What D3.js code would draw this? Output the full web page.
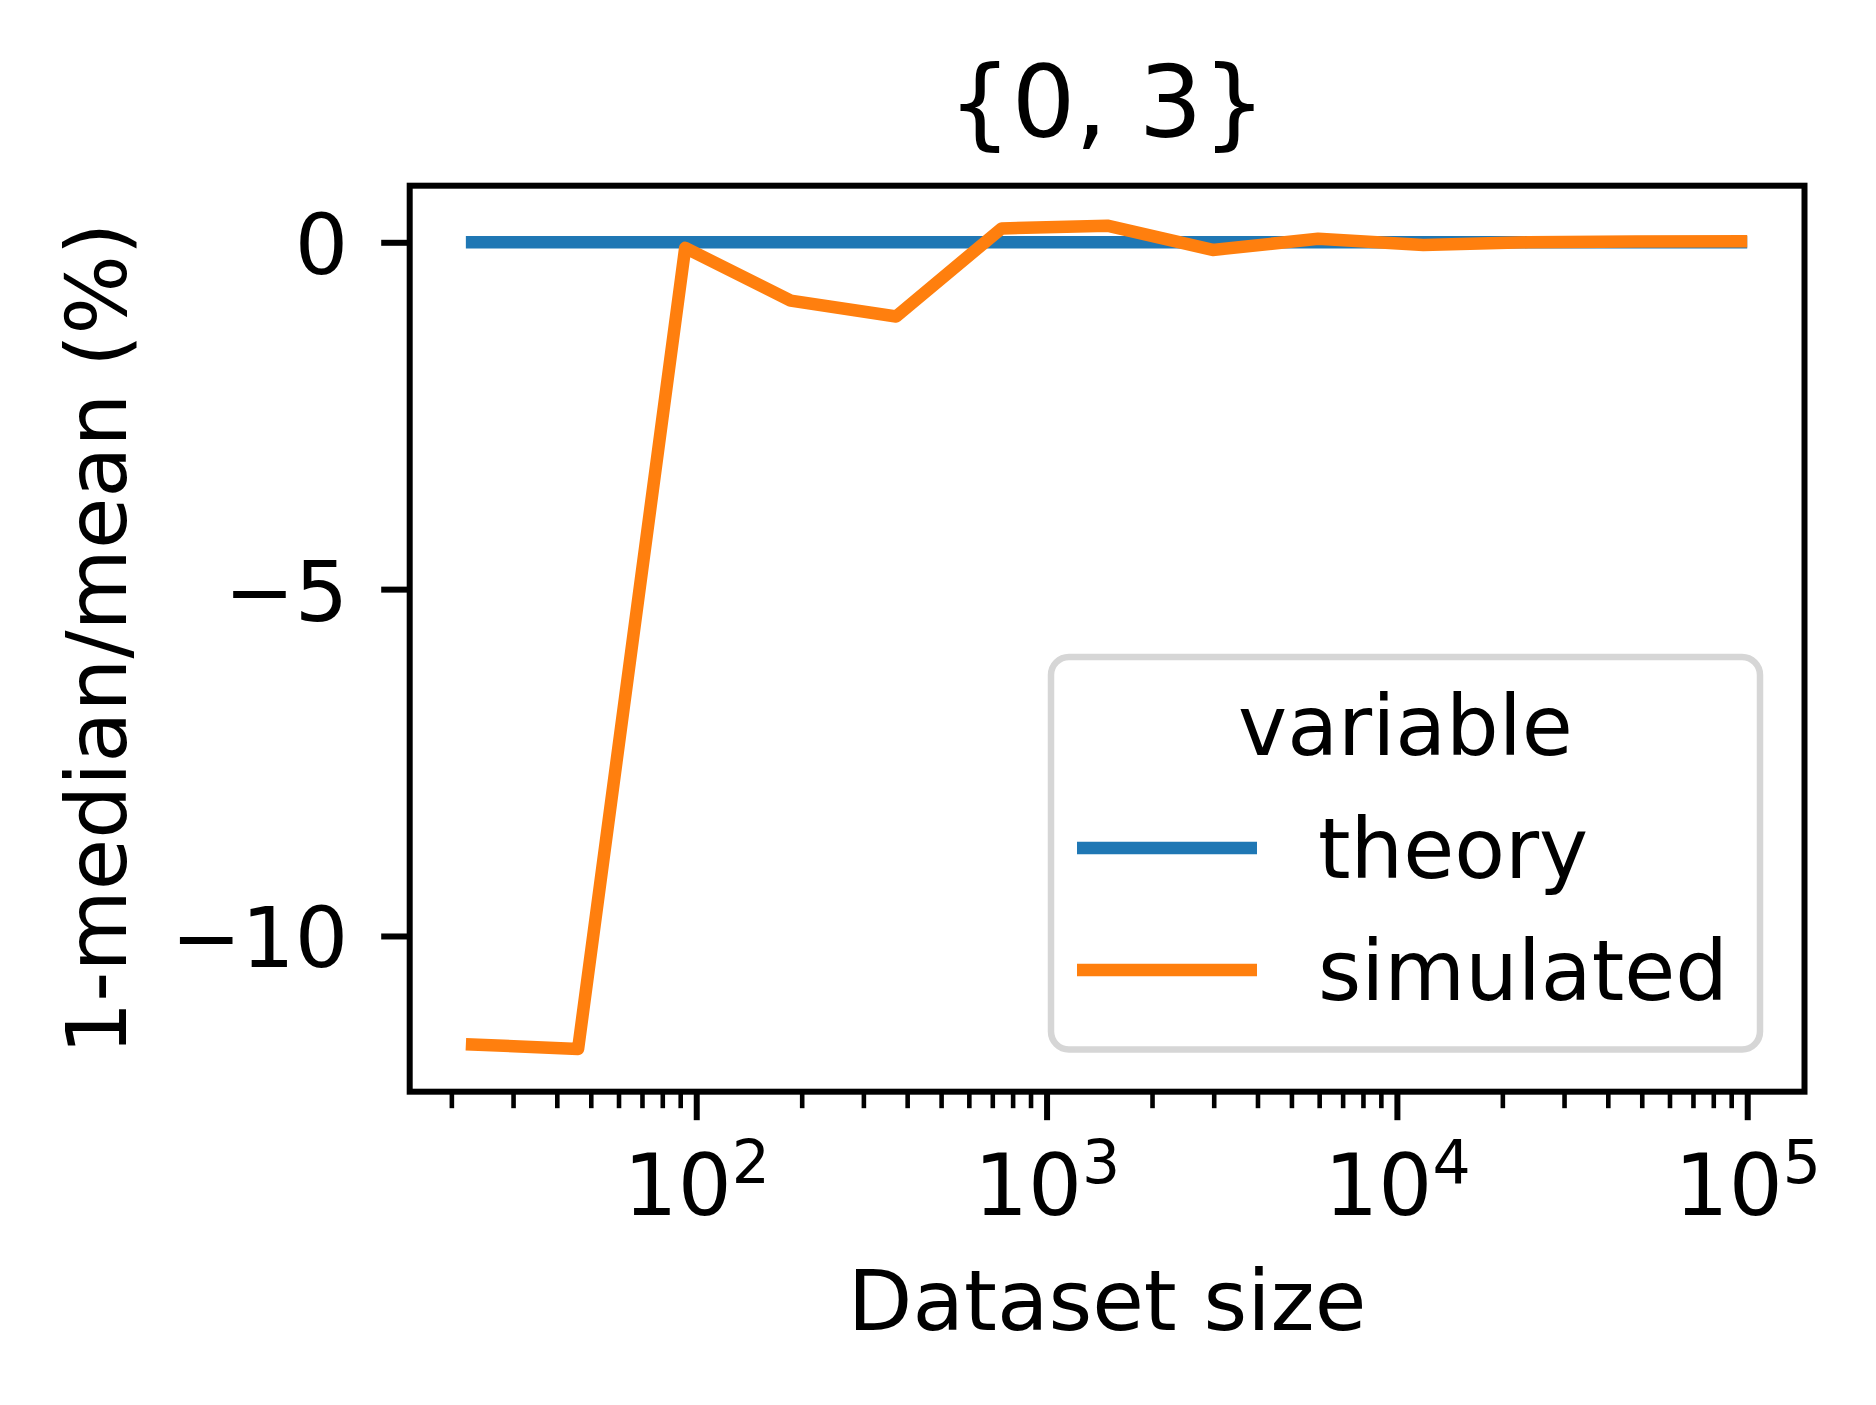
<!DOCTYPE html>
<html>
<head>
<meta charset="utf-8">
<script src="https://cdn.jsdelivr.net/npm/d3@7"></script>
<style>
  html, body { margin: 0; padding: 0; background: #fff; }
  svg { display: block; font-family: "DejaVu Sans", sans-serif; }
</style>
</head>
<body>
<svg id="chart" width="1876" height="1405"></svg>
<script>
// ---- data ----
const datasetSizes = [22, 46, 93, 186, 372, 744, 1490, 2980, 5960, 11900, 23700, 48000, 100000];
const theory = [0, 0, 0, 0, 0, 0, 0, 0, 0, 0, 0, 0, 0];
const simulated = [-11.56, -11.63, -0.08, -0.84, -1.07, 0.20, 0.24, -0.11, 0.05, -0.04, 0.0, 0.01, 0.015];
const seriesNames = ["theory", "simulated"];
const seriesColors = ["#1f77b4", "#ff7f0e"];
const yTicks = [0, -5, -10];
const yTickLabels = ["0", "\u22125", "\u221210"];
const xTicks = [100, 1000, 10000, 100000];
const xTickBase = "10";
const xTickExps = ["2", "3", "4", "5"];
const titleText = "{0, 3}";
const xLabel = "Dataset size";
const yLabel = "1-median/mean (%)";
const legendTitle = "variable";

// ---- layout ----
const L = 409.7, R = 1804.5, T = 185.7, B = 1091.7;
const svg = d3.select("#chart");

const x = d3.scaleLog()
  .domain([Math.pow(10, 1.1821), Math.pow(10, 5.1635)])
  .range([L, R]);
const y = d3.scaleLinear()
  .domain([-12.245, 0.816])
  .range([B, T]);

// ---- data lines ----
const line = d3.line().x(d => x(d[0])).y(d => y(d[1]));
const seriesData = [theory, simulated].map(vals => datasetSizes.map((s, i) => [s, vals[i]]));
svg.append("g").selectAll("path")
  .data(seriesData)
  .join("path")
  .attr("d", line)
  .attr("fill", "none")
  .attr("stroke", (d, i) => seriesColors[i])
  .attr("stroke-width", 12.5)
  .attr("stroke-linejoin", "round")
  .attr("stroke-linecap", "butt");

// ---- y axis ----
const yAxis = svg.append("g")
  .attr("transform", `translate(${L},0)`)
  .call(d3.axisLeft(y).tickValues(yTicks).tickSize(28.5).tickPadding(33)
    .tickFormat((d, i) => yTickLabels[i]));
yAxis.select(".domain").remove();
yAxis.selectAll(".tick line").attr("stroke", "#000").attr("stroke-width", 6);
yAxis.selectAll(".tick text")
  .attr("fill", "#000")
  .attr("font-size", 84)
  .attr("font-family", "DejaVu Sans")
  .attr("dy", null)
  .attr("dominant-baseline", null)
  .attr("y", 31);

// ---- x axis minor ticks ----
const xMinor = [];
[10, 100, 1000, 10000, 100000].forEach(b => {
  for (let k = 2; k <= 9; k++) {
    const v = b * k;
    if (v >= x.domain()[0] && v <= x.domain()[1]) xMinor.push(v);
  }
});
const xMinorAxis = svg.append("g")
  .attr("transform", `translate(0,${B})`)
  .call(d3.axisBottom(x).tickValues(xMinor).tickSize(16.5).tickFormat(""));
xMinorAxis.select(".domain").remove();
xMinorAxis.selectAll(".tick line").attr("stroke", "#000").attr("stroke-width", 4.6);

// ---- x axis major ticks ----
const xAxis = svg.append("g")
  .attr("transform", `translate(0,${B})`)
  .call(d3.axisBottom(x).tickValues(xTicks).tickSize(28.5).tickFormat(""));
xAxis.select(".domain").remove();
xAxis.selectAll(".tick line").attr("stroke", "#000").attr("stroke-width", 6);
xAxis.selectAll(".tick").each(function(d, i) {
  const t = d3.select(this).append("text")
    .attr("fill", "#000")
    .attr("font-size", 85)
    .attr("font-family", "DejaVu Sans")
    .attr("text-anchor", "middle")
    .attr("x", 0)
    .attr("y", 1215 - B);
  t.append("tspan").text(xTickBase);
  t.append("tspan").attr("dy", -32).attr("font-size", 60).text(xTickExps[i]);
});

// ---- spines ----
svg.append("rect")
  .attr("x", L).attr("y", T)
  .attr("width", R - L).attr("height", B - T)
  .attr("fill", "none")
  .attr("stroke", "#000")
  .attr("stroke-width", 6);

// ---- title & labels ----
svg.append("text")
  .attr("x", (L + R) / 2).attr("y", 137)
  .attr("text-anchor", "middle")
  .attr("font-size", 100)
  .attr("fill", "#000")
  .text(titleText);

svg.append("text")
  .attr("x", (L + R) / 2).attr("y", 1330)
  .attr("text-anchor", "middle")
  .attr("font-size", 84)
  .attr("fill", "#000")
  .text(xLabel);

svg.append("text")
  .attr("transform", `translate(126,${(T + B) / 2}) rotate(-90)`)
  .attr("text-anchor", "middle")
  .attr("font-size", 83.5)
  .attr("fill", "#000")
  .text(yLabel);

// ---- legend ----
const lg = svg.append("g");
lg.append("rect")
  .attr("x", 1051).attr("y", 657)
  .attr("width", 709).attr("height", 392.5)
  .attr("rx", 18).attr("ry", 18)
  .attr("fill", "#fff").attr("fill-opacity", 0.8)
  .attr("stroke", "#d6d6d6")
  .attr("stroke-width", 6.5);
lg.append("text")
  .attr("x", 1405.5).attr("y", 755)
  .attr("text-anchor", "middle")
  .attr("font-size", 83)
  .attr("fill", "#000")
  .text(legendTitle);
const legendRowY = [848, 970];
seriesNames.forEach((name, i) => {
  lg.append("line")
    .attr("x1", 1077).attr("x2", 1257)
    .attr("y1", legendRowY[i]).attr("y2", legendRowY[i])
    .attr("stroke", seriesColors[i])
    .attr("stroke-width", 12.5);
  lg.append("text")
    .attr("x", 1318).attr("y", legendRowY[i] + 29.5)
    .attr("font-size", 83)
    .attr("fill", "#000")
    .text(name);
});
</script>
</body>
</html>
